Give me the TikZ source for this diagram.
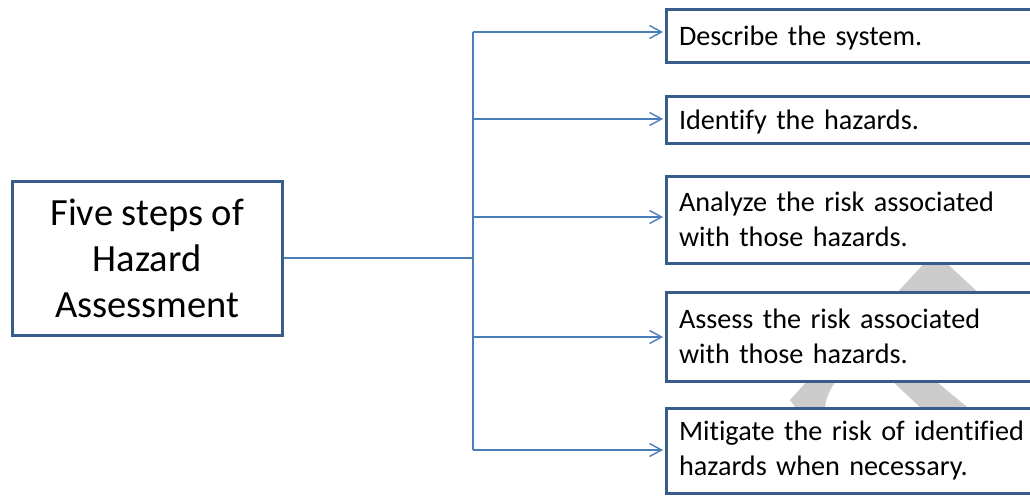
\documentclass[tikz,border=0pt]{standalone}
\usepackage{fontspec}
\setmainfont{Carlito}[Ligatures=NoCommon]
\usetikzlibrary{arrows.meta}

\definecolor{boxline}{HTML}{385D8A}
\definecolor{linkline}{HTML}{4A7EBB}
\definecolor{markgray}{HTML}{CCCCCC}

\tikzset{
  stepbox/.style={draw=boxline, line width=3pt, fill=white, rectangle,
    minimum width=384pt, inner xsep=13pt, inner ysep=0pt,
    text width=358pt, align=left,
    font=\fontsize{28.2}{35}\selectfont},
  titlebox/.style={draw=boxline, line width=3pt, fill=white, rectangle,
    minimum width=269.5pt, minimum height=154pt, inner sep=0pt,
    align=center, font=\fontsize{38.5}{46}\selectfont},
  link/.style={draw=linkline, line width=1.4pt},
  linkarrow/.style={link, -{Straight Barb[length=12pt,width=13pt,line width=1.4pt]}, shorten >=1.5pt}
}

\begin{document}
\begin{tikzpicture}[x=1pt, y=-1pt]
  \useasboundingbox (0,0) rectangle (1030,496);
  \clip (0,0) rectangle (1030,496);
  \fill[white] (0,0) rectangle (1030,496);

  % faint background mark behind the step boxes
  \fill[markgray] (929,258) -- (941,258) -- (982,296) -- (894,296) -- cycle;
  \fill[markgray] (889,378) -- (932,378) -- (972,411) -- (924,411) -- cycle;
  \fill[markgray] (810,378) -- (838,378) .. controls (828,392) and (825,400) .. (825,411)
                  -- (798,411) -- (790,400) -- cycle;

  % title box
  \node[titlebox] (title) at (147.25,258) {Five steps of\\Hazard\\Assessment};

  % step boxes
  \node[stepbox, minimum height=53pt, text depth=0pt] (b1) at (858,35.5) {Describe the system.};
  \node[stepbox, minimum height=47pt, text depth=0pt] (b2) at (858,119.5) {Identify the hazards.};
  \node[stepbox, minimum height=87pt] (b3) at (858,219.5) {Analyze the risk associated\\with those hazards.};
  \node[stepbox, minimum height=89pt] (b4) at (858,336.5) {Assess the risk associated\\with those hazards.};
  \node[stepbox, minimum height=85pt] (b5) at (858,450.5) {Mitigate the risk of identified\\hazards when necessary.};

  % branching connector
  \coordinate (hub) at (473,258);
  \coordinate (j1) at (473,32);
  \coordinate (j2) at (473,119);
  \coordinate (j3) at (473,217);
  \coordinate (j4) at (473,337);
  \coordinate (j5) at (473,450);

  \draw[link] (title.east |- hub) -- (hub);
  \draw[link] (j1) -- (j5);
  \draw[linkarrow] (j1) -- (j1 -| b1.west);
  \draw[linkarrow] (j2) -- (j2 -| b2.west);
  \draw[linkarrow] (j3) -- (j3 -| b3.west);
  \draw[linkarrow] (j4) -- (j4 -| b4.west);
  \draw[linkarrow] (j5) -- (j5 -| b5.west);
\end{tikzpicture}
\end{document}
